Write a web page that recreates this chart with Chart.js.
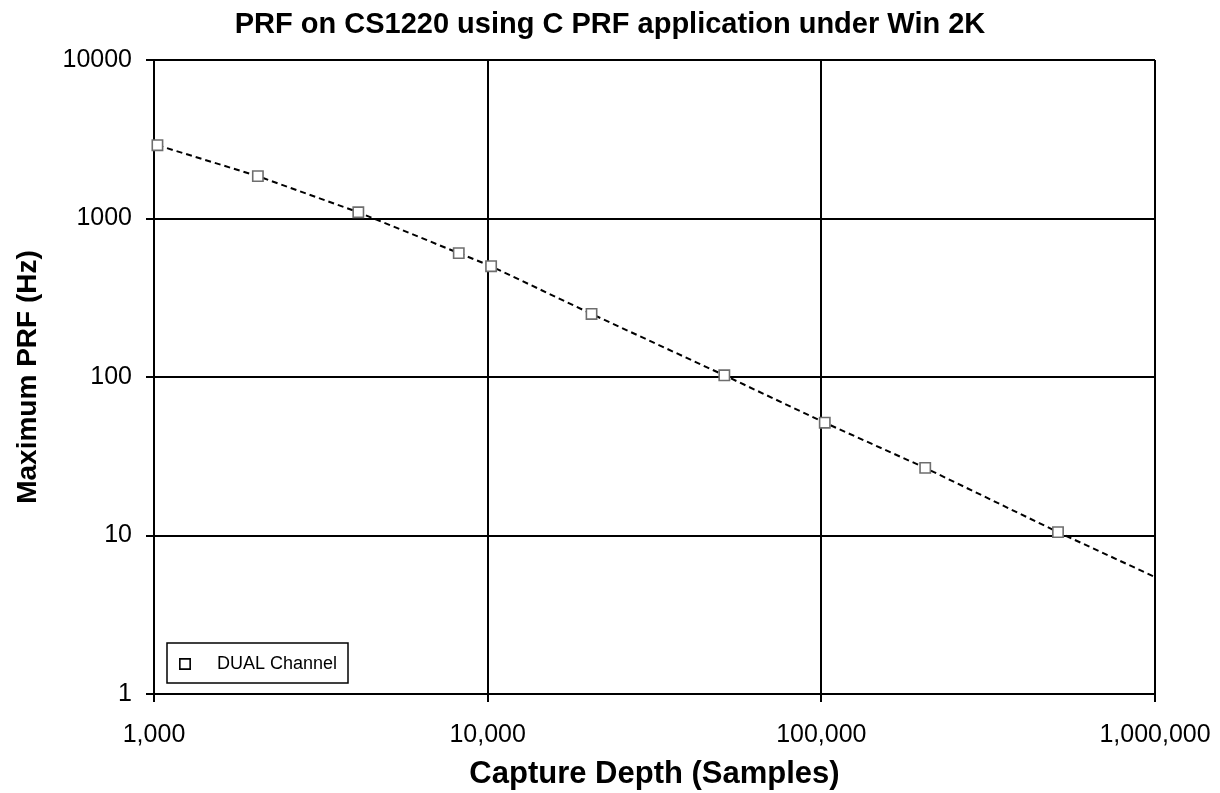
<!DOCTYPE html>
<html>
<head>
<meta charset="utf-8">
<script src="https://cdn.jsdelivr.net/npm/chart.js@4/dist/chart.umd.min.js"></script>
<style>
  html, body { margin: 0; padding: 0; background: #ffffff; }
  #wrap { width: 1220px; height: 793px; }
</style>
</head>
<body>
<div id="wrap"><canvas id="c" width="1220" height="793"></canvas></div>
<script>
const chartTitle = 'PRF on CS1220 using C PRF application under Win 2K';
const xAxisTitle = 'Capture Depth (Samples)';
const yAxisTitle = 'Maximum PRF (Hz)';
const seriesLabel = 'DUAL Channel';

const depths = [1024, 2048, 4096, 8192, 10240, 20480, 51200, 102400, 204800, 512000];
const prfDual = [2900, 1850, 1095, 605, 500, 250, 102.5, 51.5, 26.7, 10.5];

// dashed line: runs through the measured points and on to the right edge
const lineEndDepth = [1000000];
const lineEndPrf = [5.47];
const lineDepths = depths.concat(lineEndDepth);
const linePrf = prfDual.concat(lineEndPrf);

const xTicks = [1000, 10000, 100000, 1000000];
const xTickLabels = ['1,000', '10,000', '100,000', '1,000,000'];
const yTicks = [1, 10, 100, 1000, 10000];
const yTickLabels = ['1', '10', '100', '1000', '10000'];

const FONT = '"Liberation Sans", Arial, Helvetica, sans-serif';

const insideLegend = {
  id: 'insideLegend',
  afterDraw(chart) {
    const ctx = chart.ctx;
    const ds = chart.data.datasets[0];
    const ca = chart.chartArea;
    const x0 = ca.left + 13, y0 = ca.bottom - 51, w = 181, h = 40;
    ctx.save();
    ctx.fillStyle = '#ffffff';
    ctx.fillRect(x0, y0, w, h);
    ctx.lineWidth = 1.5;
    ctx.strokeStyle = '#000000';
    ctx.strokeRect(x0, y0, w, h);
    const s = ds.pointRadius * Math.SQRT1_2;
    ctx.fillStyle = ds.pointBackgroundColor;
    ctx.strokeStyle = '#000000';
    ctx.lineWidth = 1.6;
    ctx.beginPath();
    ctx.rect(x0 + 18 - s, y0 + 21 - s, 2 * s, 2 * s);
    ctx.fill();
    ctx.stroke();
    ctx.fillStyle = '#000000';
    ctx.font = '18px ' + FONT;
    ctx.textAlign = 'left';
    ctx.textBaseline = 'middle';
    ctx.fillText(ds.label, x0 + 50, y0 + 21);
    ctx.restore();
  }
};

new Chart(document.getElementById('c'), {
  type: 'scatter',
  data: {
    datasets: [
      {
        label: seriesLabel,
        data: depths.map((d, i) => ({ x: d, y: prfDual[i] })),
        pointStyle: 'rect',
        pointRadius: 7.3,
        pointHoverRadius: 7.3,
        pointBackgroundColor: '#ffffff',
        pointBorderColor: '#6e6e6e',
        pointBorderWidth: 1.6,
        showLine: false,
        clip: false
      },
      {
        label: 'Line',
        data: lineDepths.map((d, i) => ({ x: d, y: linePrf[i] })),
        showLine: true,
        borderColor: '#000000',
        borderWidth: 2,
        borderDash: [6, 4],
        pointRadius: 0,
        pointHoverRadius: 0,
        tension: 0,
        fill: false
      }
    ]
  },
  options: {
    responsive: false,
    animation: false,
    events: [],
    layout: { padding: 0 },
    plugins: {
      legend: { display: false },
      tooltip: { enabled: false },
      title: {
        display: true,
        text: chartTitle,
        color: '#000000',
        font: { family: FONT, size: 29, weight: 'bold', lineHeight: 1.2 },
        padding: { top: 8, bottom: 17.2 }
      }
    },
    scales: {
      x: {
        type: 'logarithmic',
        min: 1000,
        max: 1000000,
        afterBuildTicks: s => { s.ticks = xTicks.map(v => ({ value: v })); },
        afterFit: s => { s.height = 99; s.paddingLeft = 0; s.paddingRight = 0; },
        ticks: {
          color: '#000000',
          font: { family: FONT, size: 25 },
          padding: 18,
          maxRotation: 0,
          autoSkip: false,
          callback: (v) => { const i = xTicks.indexOf(v); return i >= 0 ? xTickLabels[i] : ''; }
        },
        grid: { color: '#000000', lineWidth: 2, drawTicks: true, tickLength: 8, tickColor: '#000000', tickWidth: 2 },
        border: { display: true, color: '#000000', width: 2 },
        title: {
          display: true,
          text: xAxisTitle,
          color: '#000000',
          font: { family: FONT, size: 31, weight: 'bold', lineHeight: 1.2 },
          padding: { top: 0, bottom: 0 }
        }
      },
      y: {
        type: 'logarithmic',
        min: 1,
        max: 10000,
        afterBuildTicks: s => { s.ticks = yTicks.map(v => ({ value: v })); },
        afterFit: s => { s.width = 154; },
        ticks: {
          color: '#000000',
          font: { family: FONT, size: 25 },
          padding: 14,
          autoSkip: false,
          callback: (v) => { const i = yTicks.indexOf(v); return i >= 0 ? yTickLabels[i] : ''; }
        },
        grid: { color: '#000000', lineWidth: 2, drawTicks: true, tickLength: 8, tickColor: '#000000', tickWidth: 2 },
        border: { display: true, color: '#000000', width: 2 },
        title: {
          display: true,
          text: yAxisTitle,
          color: '#000000',
          font: { family: FONT, size: 28, weight: 'bold', lineHeight: 1.2 },
          padding: { top: 11, bottom: 0 }
        }
      },
      rightSpace: {
        type: 'linear',
        position: 'right',
        display: true,
        afterFit: s => { s.width = 65; },
        ticks: { display: false },
        grid: { display: false, drawOnChartArea: false, drawTicks: false },
        border: { display: false },
        title: { display: false }
      }
    }
  },
  plugins: [insideLegend]
});
</script>
</body>
</html>
